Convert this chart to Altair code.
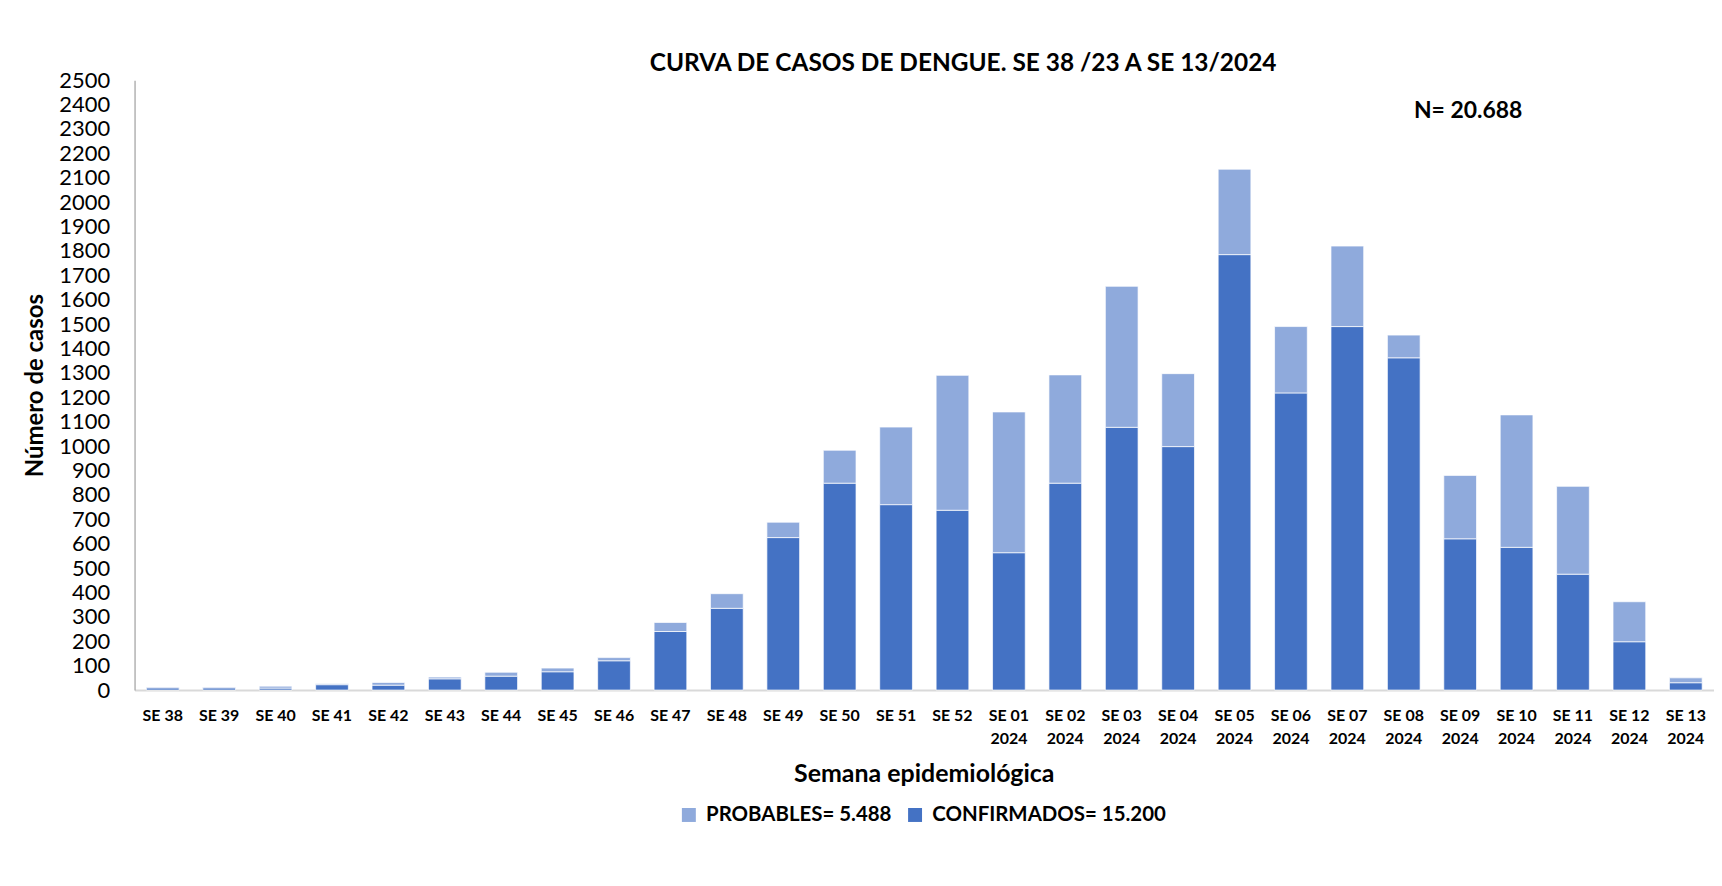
import altair as alt
import pandas as pd

semanas = ["SE 38", "SE 39", "SE 40", "SE 41", "SE 42", "SE 43", "SE 44", "SE 45", "SE 46",
           "SE 47", "SE 48", "SE 49", "SE 50", "SE 51", "SE 52",
           "SE 01 2024", "SE 02 2024", "SE 03 2024", "SE 04 2024", "SE 05 2024", "SE 06 2024",
           "SE 07 2024", "SE 08 2024", "SE 09 2024", "SE 10 2024", "SE 11 2024", "SE 12 2024",
           "SE 13 2024"]
confirmados = [9, 9, 8, 22, 20, 46, 57, 75, 120, 240, 335, 625, 848, 760, 737,
               563, 848, 1077, 998, 1785, 1218, 1490, 1362, 620, 585, 475, 198, 30]
probables = [3, 3, 8, 4, 11, 7, 16, 15, 13, 37, 60, 63, 135, 318, 553,
             577, 444, 578, 299, 350, 272, 330, 93, 260, 543, 360, 164, 20]

serie_prob = "PROBABLES= 5.488"
serie_conf = "CONFIRMADOS= 15.200"
titulo = "CURVA DE CASOS DE DENGUE. SE 38 /23 A SE 13/2024"
anotacion = ["N= 20.688"]
anotacion_semana = ["SE 09 2024"]
anotacion_casos = [2375]
y_ticks = list(range(0, 2501, 100))

rows = []
for s, c, p in zip(semanas, confirmados, probables):
    rows.append({"semana": s, "serie": serie_conf, "casos": c, "orden": 0})
    rows.append({"semana": s, "serie": serie_prob, "casos": p, "orden": 1})
df = pd.DataFrame(rows)

df_n = pd.DataFrame({"semana": anotacion_semana, "casos": anotacion_casos, "texto": anotacion})

FONT = "Lato"

x_scale = alt.Scale(domain=semanas, paddingInner=0.42, paddingOuter=0.21)
y_scale = alt.Scale(domain=[0, 2500], nice=False)

x_axis = alt.Axis(
    title="Semana epidemiológica",
    labelAngle=0,
    labelExpr="length(datum.label) > 5 ? [substring(datum.label, 0, 5), substring(datum.label, 6)] : datum.label",
    labelFontSize=16, labelFontWeight="bold", labelColor="black",
    labelBaseline="alphabetic", labelPadding=31, labelLineHeight=23,
    labelOverlap=False,
    ticks=False, tickSize=0,
    domainColor="#D9D9D9", domainWidth=2,
    titleFontSize=25, titleFontWeight="bold", titleColor="black",
    titleBaseline="alphabetic", titleX=792, titleY=92,
)
y_axis = alt.Axis(
    title="Número de casos",
    values=y_ticks, format="d", grid=False, ticks=False, tickSize=0,
    labelFontSize=22, labelColor="black", labelPadding=25, labelOverlap=False,
    domainColor="#A6A6A6", domainWidth=1.3,
    titleFontSize=24, titleFontWeight="bold", titleColor="black",
    titleBaseline="alphabetic", titleX=-92, titleY=306,
)

color_enc = alt.Color(
    "serie:N",
    scale=alt.Scale(domain=[serie_prob, serie_conf], range=["#8FAADC", "#4472C4"]),
    legend=alt.Legend(
        title=None, orient="none", legendX=546, legendY=727, direction="horizontal",
        symbolType="square", symbolSize=196, symbolStrokeWidth=0,
        labelFontSize=20.5, labelFontWeight="bold", labelColor="black", labelLimit=400,
        labelOffset=7, columnPadding=13, padding=0,
    ),
)

bars = alt.Chart(df).mark_bar(stroke="#FFFFFF", strokeWidth=0.7).encode(
    x=alt.X("semana:N", scale=x_scale, sort=semanas, axis=x_axis),
    y=alt.Y("casos:Q", scale=y_scale, stack="zero", axis=y_axis),
    color=color_enc,
    order=alt.Order("orden:Q", sort="ascending"),
)

texto = alt.Chart(df_n).mark_text(
    fontSize=23, fontWeight="bold", color="black", baseline="middle", align="center", dx=8
).encode(
    x=alt.X("semana:N", scale=x_scale, sort=semanas, axis=x_axis),
    y=alt.Y("casos:Q", scale=y_scale, axis=y_axis),
    text="texto:N",
)

chart = alt.layer(bars, texto).properties(
    width=1585, height=612,
    autosize=alt.AutoSizeParams(type="none"),
    padding={"left": 127, "top": 71, "right": 0, "bottom": 140},
    title=alt.TitleParams(
        text=titulo, fontSize=24.5, fontWeight="bold", color="black",
        anchor="middle", frame="group", baseline="alphabetic", offset=13, dx=39, dy=39,
    ),
).configure(font=FONT).configure_view(strokeWidth=0)

chart.save("out.html", embed_options={"renderer": "svg", "actions": False})
